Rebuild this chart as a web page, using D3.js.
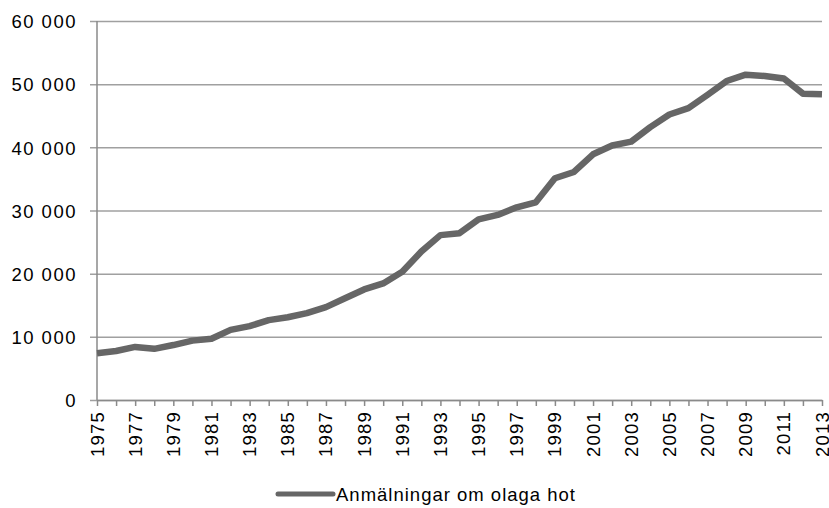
<!DOCTYPE html>
<html>
<head>
<meta charset="utf-8">
<script src="https://cdn.jsdelivr.net/npm/d3@7"></script>
<style>
  body { margin: 0; background: #fff; }
  text { font-family: "Liberation Sans", Arial, sans-serif; font-size: 18.5px; letter-spacing: 1px; fill: #000; }
</style>
</head>
<body>
<script>
// years on the x axis, one value per year
var years = d3.range(1975, 2014);
var reports = [
  7400, 7750, 8400, 8100, 8700, 9400, 9700, 11100, 11700, 12650,
  13100, 13750, 14700, 16100, 17500, 18450, 20300, 23500, 26100, 26400,
  28600, 29300, 30500, 31300, 35100, 36100, 38900, 40300, 40900, 43200,
  45200, 46200, 48300, 50500, 51500, 51300, 50900, 48500, 48400
];
var yTicks = [0, 10000, 20000, 30000, 40000, 50000, 60000];
var seriesName = "Anmälningar om olaga hot";

var W = 829, H = 508;
var margin = {left: 97, top: 21, right: 7, bottom: 108};

var svg = d3.select("body").append("svg")
  .attr("width", W)
  .attr("height", H);

var x = d3.scaleLinear()
  .domain([1975, 2013])
  .range([margin.left, W - margin.right]);

var y = d3.scaleLinear()
  .domain([0, 60000])
  .range([H - margin.bottom, margin.top]);

var fmt = function (v) { // swedish style thousands
  return d3.format(",")(v).replace(/,/g, " ");
};

// gridlines + y labels
var yAxis = svg.append("g")
  .attr("transform", "translate(" + margin.left + ",0)")
  .call(d3.axisLeft(y).tickValues(yTicks).tickFormat(fmt)
    .tickSize(-(W - margin.left - margin.right)).tickSizeOuter(0).tickPadding(20));
yAxis.select(".domain").remove();
yAxis.selectAll(".tick line").attr("stroke", "#a0a0a0").attr("stroke-width", 1.5).attr("x1", -7);
yAxis.selectAll(".tick text")
  .attr("dy", "0.36em")
  .style("font-size", "18.5px")
  .style("letter-spacing", "1.5px")
  .style("font-family", "Liberation Sans, Arial, sans-serif");

// y axis line
svg.append("line")
  .attr("x1", margin.left).attr("x2", margin.left)
  .attr("y1", y(60000)).attr("y2", y(0))
  .attr("stroke", "#8a8a8a").attr("stroke-width", 1.5);

// x axis
var xAxis = svg.append("g")
  .attr("transform", "translate(0," + y(0) + ")")
  .call(d3.axisBottom(x).tickValues(years).tickSize(6).tickSizeOuter(0).tickFormat(""));
xAxis.select(".domain").attr("stroke", "#8a8a8a").attr("stroke-width", 1.5);
xAxis.selectAll(".tick line").attr("stroke", "#8a8a8a").attr("stroke-width", 1.5);

svg.append("g").selectAll("text")
  .data(years.filter(function (d) { return (d - 1975) % 2 === 0; }))
  .enter().append("text")
  .attr("transform", function (d) {
    return "translate(" + (x(d) + 6.5) + "," + (y(0) + 11) + ") rotate(-90)";
  })
  .attr("text-anchor", "end")
  .style("letter-spacing", "1.2px")
  .text(function (d) { return d; });

// the series
var line = d3.line()
  .x(function (d, i) { return x(years[i]); })
  .y(function (d) { return y(d); });

svg.append("path")
  .datum(reports)
  .attr("d", line)
  .attr("fill", "none")
  .attr("stroke", "#666")
  .attr("stroke-width", 6.5)
  .attr("stroke-linejoin", "round");

// legend
var lg = svg.append("g").attr("transform", "translate(278,494)");
lg.append("line")
  .attr("x1", 0).attr("x2", 55)
  .attr("stroke", "#666").attr("stroke-width", 5).attr("stroke-linecap", "round");
lg.append("text")
  .attr("x", 58).attr("y", 6.5)
  .text(seriesName);
</script>
</body>
</html>
